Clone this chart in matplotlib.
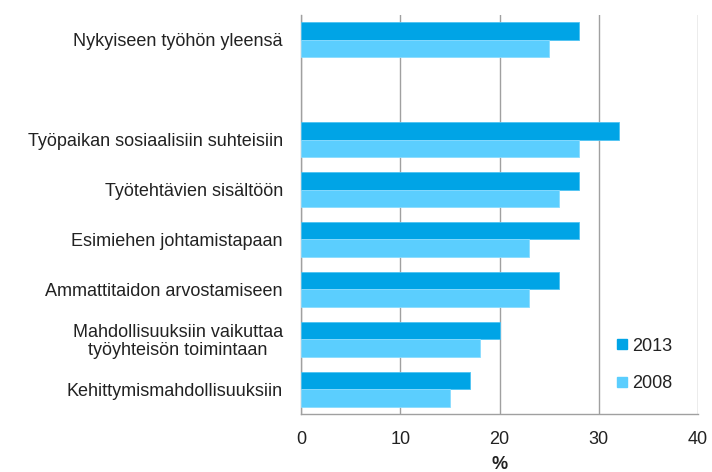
import matplotlib
matplotlib.use("Agg")
import matplotlib.pyplot as plt
from matplotlib.lines import Line2D
import numpy as np

plt.rcParams['font.family'] = ['Liberation Sans', 'DejaVu Sans']

categories = [
    "Nykyiseen työhön yleensä",
    "Työpaikan sosiaalisiin suhteisiin",
    "Työtehtävien sisältöön",
    "Esimiehen johtamistapaan",
    "Ammattitaidon arvostamiseen",
    "Mahdollisuuksiin vaikuttaa\ntyöyhteisön toimintaan",
    "Kehittymismahdollisuuksiin",
]
values_2013 = [28, 32, 28, 28, 26, 20, 17]
values_2008 = [25, 28, 26, 23, 23, 18, 15]
series_labels = ["2013", "2008"]
xticks = [0, 10, 20, 30, 40]

c2013 = "#00A4E6"
c2008 = "#5BCEFE"
textc = "#222222"
gridc = "#A0A0A0"
fs = 13

fig = plt.figure(figsize=(7.12, 4.72), dpi=100)
ax = fig.add_axes([301/712, 1-414/472, 397/712, 399/472])

# slot positions: blank slot after first category
pos = np.array([i + (1 if i > 0 else 0) for i in range(len(categories))], dtype=float)
h = 0.35
ax.barh(pos - h/2, values_2013, height=h, color=c2013, edgecolor="#4FC3F2", linewidth=0.6, zorder=3)
ax.barh(pos + h/2, values_2008, height=h, color=c2008, edgecolor="#8ADCFF", linewidth=0.6, zorder=3)

ax.set_ylim(7.5, -0.5)
ax.set_xlim(0, 40)
ax.set_xticks(xticks)
ax.set_xticklabels([str(t) for t in xticks], fontsize=fs, color=textc)
ax.set_yticks(pos)
ax.set_yticklabels(categories, fontsize=fs, color=textc, multialignment='center', linespacing=1.1)
ax.tick_params(axis='both', length=0)
ax.tick_params(axis='y', pad=13)
ax.tick_params(axis='x', pad=12)
ax.xaxis.grid(True, color=gridc, linewidth=1.0, zorder=0)
ax.set_axisbelow(True)
for s in ['top', 'right']:
    ax.spines[s].set_visible(False)
for s in ['left', 'bottom']:
    ax.spines[s].set_color(gridc)
    ax.spines[s].set_linewidth(1.0)
ax.set_xlabel("%", fontsize=fs, color=textc, labelpad=6, fontweight='bold')

handles = [Line2D([], [], marker='s', linestyle='none', markersize=7.2, color=c2013),
           Line2D([], [], marker='s', linestyle='none', markersize=7.2, color=c2008)]
leg = ax.legend(handles, series_labels, loc='center left', bbox_to_anchor=(0.795, 0.123),
                frameon=False, fontsize=fs, labelspacing=1.15, handlelength=0.6,
                handletextpad=0.25, borderpad=0, borderaxespad=0)
for t in leg.get_texts():
    t.set_color(textc)

fig.savefig("out.png", dpi=100, facecolor="white")
